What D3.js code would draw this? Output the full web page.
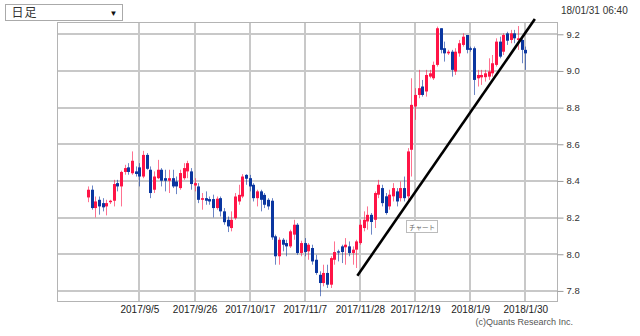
<!DOCTYPE html>
<html>
<head>
<meta charset="utf-8">
<script src="https://cdnjs.cloudflare.com/ajax/libs/d3/7.8.5/d3.min.js"></script>
<style>
  html, body { margin: 0; padding: 0; background: #fff; }
  svg { display: block; }
</style>
</head>
<body>
<div id="chart"></div>
<script>
// daily candles, 2017/8/16 .. 2018/1/30 (weekdays)
const opens = [
  8.310, 8.352, 8.252, 8.297, 8.279, 8.261, 8.284, 8.292, 8.388, 8.370,
  8.449, 8.474, 8.442, 8.452, 8.474, 8.424, 8.542, 8.461, 8.352, 8.415,
  8.461, 8.415, 8.401, 8.415, 8.397, 8.361, 8.415, 8.452, 8.452, 8.375,
  8.370, 8.297, 8.306, 8.301, 8.301, 8.252, 8.306, 8.234, 8.188, 8.143,
  8.197, 8.288, 8.315, 8.433, 8.415, 8.379, 8.306, 8.343, 8.324, 8.297,
  8.292, 8.098, 7.989, 8.079, 8.061, 8.043, 8.107, 8.161, 8.007, 8.061,
  8.016, 8.034, 7.970, 7.888, 7.843, 7.898, 7.834, 7.970, 8.016, 8.043,
  8.038, 8.043, 8.007, 8.025, 8.061, 8.143, 8.179, 8.215, 8.188, 8.325,
  8.361, 8.316, 8.261, 8.316, 8.343, 8.306, 8.361, 8.316, 8.570, 8.806,
  8.869, 8.915, 8.888, 8.969, 8.960, 9.033, 9.233, 9.124, 9.096, 9.105,
  8.997, 9.096, 9.142, 9.196, 9.124, 9.124, 8.960, 8.965, 8.966, 8.969,
  8.987, 9.033, 9.160, 9.105, 9.205, 9.169, 9.205, 9.169, 9.169, 9.115
];
const highs = [
  8.370, 8.375, 8.315, 8.315, 8.306, 8.297, 8.297, 8.406, 8.406, 8.456,
  8.488, 8.497, 8.561, 8.479, 8.497, 8.564, 8.552, 8.479, 8.452, 8.515,
  8.470, 8.461, 8.461, 8.461, 8.424, 8.461, 8.497, 8.510, 8.470, 8.415,
  8.388, 8.334, 8.343, 8.315, 8.325, 8.315, 8.315, 8.252, 8.206, 8.234,
  8.334, 8.379, 8.437, 8.437, 8.433, 8.388, 8.352, 8.352, 8.334, 8.306,
  8.306, 8.107, 8.092, 8.088, 8.079, 8.134, 8.188, 8.170, 8.074, 8.088,
  8.061, 8.052, 7.997, 7.907, 7.943, 7.943, 7.989, 8.070, 8.025, 8.052,
  8.088, 8.070, 8.043, 8.079, 8.188, 8.234, 8.261, 8.225, 8.343, 8.406,
  8.379, 8.334, 8.352, 8.388, 8.361, 8.397, 8.424, 8.579, 8.960, 8.906,
  9.006, 8.951, 9.006, 9.006, 9.051, 9.242, 9.233, 9.160, 9.115, 9.115,
  9.124, 9.169, 9.205, 9.196, 9.133, 9.133, 9.006, 9.006, 9.006, 9.069,
  9.087, 9.178, 9.187, 9.205, 9.214, 9.224, 9.224, 9.245, 9.178, 9.133
];
const lows = [
  8.284, 8.243, 8.201, 8.216, 8.234, 8.212, 8.274, 8.261, 8.343, 8.261,
  8.434, 8.434, 8.434, 8.424, 8.370, 8.415, 8.461, 8.306, 8.334, 8.410,
  8.370, 8.343, 8.334, 8.361, 8.328, 8.352, 8.406, 8.415, 8.352, 8.343,
  8.279, 8.243, 8.270, 8.270, 8.201, 8.243, 8.206, 8.161, 8.121, 8.125,
  8.188, 8.270, 8.306, 8.379, 8.343, 8.288, 8.261, 8.234, 8.252, 8.243,
  8.079, 7.943, 7.943, 8.016, 7.989, 8.034, 8.079, 7.997, 7.989, 7.989,
  7.970, 7.943, 7.888, 7.771, 7.825, 7.816, 7.816, 7.943, 7.961, 7.952,
  7.943, 7.989, 7.943, 7.925, 8.052, 8.125, 8.134, 8.107, 8.143, 8.306,
  8.261, 8.216, 8.243, 8.288, 8.261, 8.288, 8.288, 8.288, 8.424, 8.733,
  8.851, 8.860, 8.860, 8.960, 8.951, 9.024, 9.096, 9.051, 9.087, 8.969,
  8.978, 9.078, 9.133, 9.096, 9.105, 8.869, 8.915, 8.924, 8.942, 8.951,
  8.969, 9.024, 9.069, 9.087, 9.142, 9.151, 9.151, 9.115, 9.042, 9.006
];
const closes = [
  8.352, 8.252, 8.288, 8.261, 8.256, 8.279, 8.292, 8.383, 8.370, 8.449,
  8.470, 8.449, 8.510, 8.438, 8.424, 8.542, 8.466, 8.334, 8.424, 8.461,
  8.401, 8.401, 8.415, 8.370, 8.370, 8.443, 8.470, 8.497, 8.383, 8.388,
  8.297, 8.306, 8.292, 8.288, 8.252, 8.303, 8.234, 8.175, 8.152, 8.188,
  8.315, 8.324, 8.424, 8.412, 8.370, 8.306, 8.343, 8.297, 8.270, 8.261,
  8.092, 7.989, 8.079, 8.052, 8.043, 8.125, 8.161, 8.007, 8.061, 8.012,
  8.052, 7.961, 7.898, 7.843, 7.898, 7.834, 7.979, 8.012, 8.009, 8.012,
  8.052, 8.007, 8.025, 8.070, 8.161, 8.188, 8.215, 8.176, 8.334, 8.379,
  8.279, 8.225, 8.325, 8.361, 8.288, 8.361, 8.306, 8.561, 8.815, 8.869,
  8.906, 8.869, 8.978, 8.987, 9.033, 9.233, 9.115, 9.096, 9.105, 9.006,
  9.105, 9.151, 9.187, 9.115, 9.115, 8.951, 8.978, 8.978, 8.987, 8.997,
  9.042, 9.160, 9.078, 9.196, 9.165, 9.205, 9.178, 9.178, 9.115, 9.096
];

const xLabels = ['2017/9/5', '2017/9/26', '2017/10/17', '2017/11/7', '2017/11/28', '2017/12/19', '2018/1/9', '2018/1/30'];
const yTicks = [7.8, 8.0, 8.2, 8.4, 8.6, 8.8, 9.0, 9.2];

// user-drawn trend line: [candle index, price]
const trendLine = [[73.3, 7.883], [121.6, 9.283]];

const width = 640;
const height = 336;
const frame = { left: 57, right: 557, top: 22, bottom: 301 };

const upColor = '#ff1446';
const downColor = '#0a36a0';

// weekday dates for the candles
const fmt = d3.timeFormat('%Y/%-m/%-d');
const dates = d3.timeDay
  .range(new Date(2017, 7, 16), new Date(2018, 0, 31))
  .filter(d => d.getDay() !== 0 && d.getDay() !== 6)
  .map(fmt);

const candles = opens.map((o, i) => ({
  i,
  date: dates[i],
  open: o,
  high: highs[i],
  low: lows[i],
  close: closes[i],
}));

const x = d3.scaleLinear().domain([0, candles.length - 1]).range([88, 525.3]);
const y = d3.scaleLinear().domain([7.745, 9.267]).range([frame.bottom, frame.top]);

const svg = d3
  .select('#chart')
  .append('svg')
  .attr('width', width)
  .attr('height', height)
  .style('font-family', '"Liberation Sans", Arial, sans-serif');

// grid
const gGrid = svg.append('g');

gGrid
  .selectAll('line.h')
  .data(yTicks)
  .enter()
  .append('line')
  .attr('x1', frame.left)
  .attr('x2', frame.right)
  .attr('y1', d => Math.round(y(d)))
  .attr('y2', d => Math.round(y(d)))
  .attr('stroke', '#c8c8c8')
  .attr('stroke-width', 2);

const labelIdx = xLabels.map(l => dates.indexOf(l));

gGrid
  .selectAll('line.v')
  .data(labelIdx)
  .enter()
  .append('line')
  .attr('x1', d => Math.round(x(d)))
  .attr('x2', d => Math.round(x(d)))
  .attr('y1', frame.top)
  .attr('y2', frame.bottom)
  .attr('stroke', '#c8c8c8')
  .attr('stroke-width', 2);

// frame
svg
  .append('rect')
  .attr('x', frame.left + 0.5)
  .attr('y', frame.top + 0.5)
  .attr('width', frame.right - frame.left)
  .attr('height', frame.bottom - frame.top)
  .attr('fill', 'none')
  .attr('stroke', '#b4b4b4');

// right y axis
const yAxis = d3
  .axisRight(y)
  .tickValues(yTicks)
  .tickSize(6)
  .tickPadding(3)
  .tickFormat(d3.format('.1f'));

const gY = svg
  .append('g')
  .attr('transform', `translate(${frame.right + 0.5},0)`)
  .call(yAxis);
gY.select('.domain').remove();
gY.selectAll('line').attr('stroke', '#9a9a9a');
gY.selectAll('text')
  .attr('fill', '#333')
  .style('font-size', '9.5px');

// bottom x axis (labels only)
const xAxis = d3
  .axisBottom(x)
  .tickValues(labelIdx)
  .tickSize(0)
  .tickPadding(5)
  .tickFormat(d => dates[d]);

const gX = svg
  .append('g')
  .attr('transform', `translate(0,${frame.bottom})`)
  .call(xAxis);
gX.select('.domain').remove();
gX.selectAll('text')
  .attr('fill', '#222')
  .style('font-size', '10px');

// candles
const gCandles = svg.append('g');
const nodes = gCandles
  .selectAll('g')
  .data(candles)
  .enter()
  .append('g');

nodes
  .append('line')
  .attr('x1', d => Math.round(x(d.i)) + 0.5)
  .attr('x2', d => Math.round(x(d.i)) + 0.5)
  .attr('y1', d => y(d.high))
  .attr('y2', d => y(d.low))
  .attr('stroke', d => (d.close >= d.open ? upColor : downColor))
  .attr('stroke-opacity', 0.6)
  .attr('stroke-width', 1);

nodes
  .append('rect')
  .attr('x', d => Math.round(x(d.i)) - 1)
  .attr('width', 3)
  .attr('y', d => y(Math.max(d.open, d.close)))
  .attr('height', d => Math.max(1, Math.abs(y(d.open) - y(d.close))))
  .attr('fill', d => (d.close >= d.open ? upColor : downColor));

// trend line
svg
  .append('path')
  .datum(trendLine)
  .attr('fill', 'none')
  .attr('stroke', '#000')
  .attr('stroke-width', 2.6)
  .attr(
    'd',
    d3
      .line()
      .x(d => x(d[0]))
      .y(d => y(d[1]))
  );

// tooltip box "チャート"
const tip = svg.append('g').attr('transform', 'translate(406.5,220.5)');
tip
  .append('rect')
  .attr('width', 31)
  .attr('height', 12)
  .attr('fill', '#fff')
  .attr('stroke', '#bbb');
tip
  .append('text')
  .attr('x', 15.5)
  .attr('y', 9)
  .attr('text-anchor', 'middle')
  .attr('fill', '#666')
  .style('font-family', '"Noto Sans CJK JP", sans-serif')
  .style('font-size', '6.5px')
  .text('チャート');

// period selector
const sel = svg.append('g').attr('transform', 'translate(5.5,4.5)');
sel
  .append('rect')
  .attr('width', 117)
  .attr('height', 16)
  .attr('fill', '#fff')
  .attr('stroke', '#aaa');
sel
  .append('text')
  .attr('x', 6)
  .attr('y', 12.5)
  .attr('fill', '#333')
  .style('font-family', '"Noto Sans CJK JP", sans-serif')
  .style('font-size', '12px')
  .style('letter-spacing', '1px')
  .text('日足');
sel
  .append('text')
  .attr('x', 104)
  .attr('y', 11.5)
  .attr('fill', '#111')
  .style('font-size', '8px')
  .text('▼');

// timestamp
svg
  .append('text')
  .attr('x', 561)
  .attr('y', 14)
  .attr('fill', '#333')
  .style('font-size', '10px')
  .text('18/01/31 06:40');

// credit
svg
  .append('text')
  .attr('x', 573)
  .attr('y', 325)
  .attr('text-anchor', 'end')
  .attr('fill', '#555')
  .style('font-size', '9px')
  .text('(c)Quants Research Inc.');
</script>
</body>
</html>
